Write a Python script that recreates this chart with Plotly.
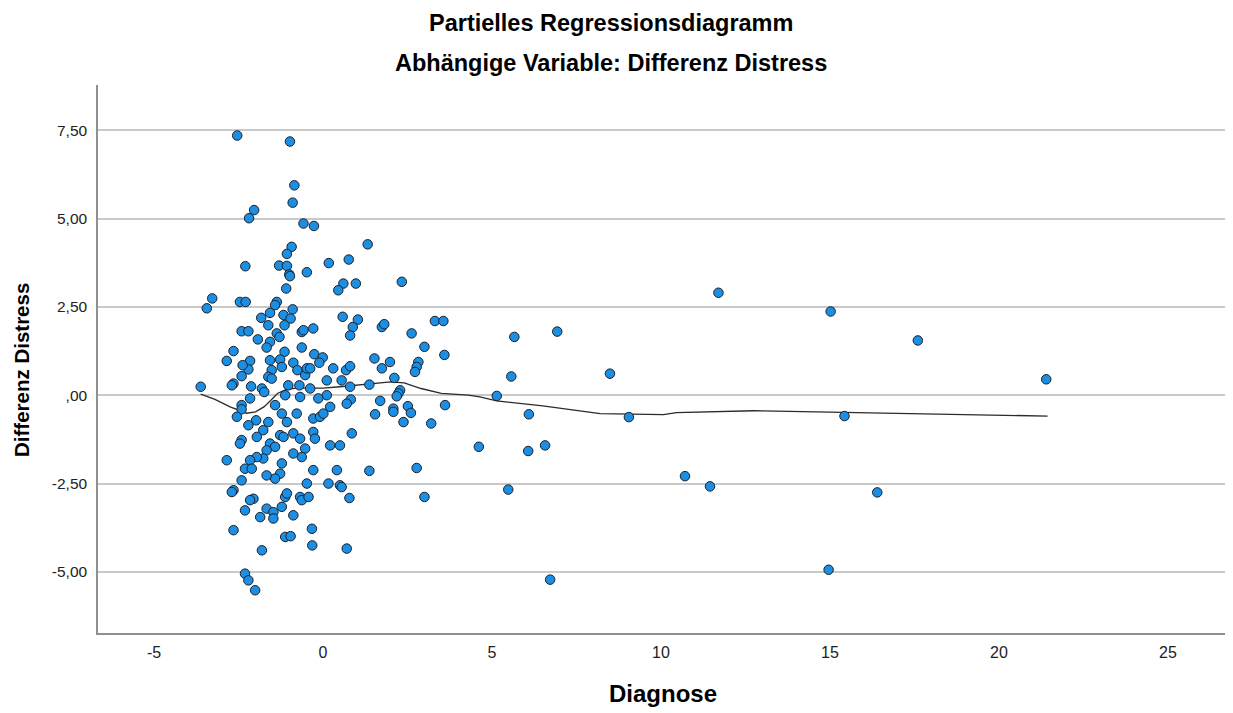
import plotly.graph_objects as go

# ---- data (Diagnose, Differenz Distress) ----
upper_points = [
    (-2.54, 7.35), (-0.98, 7.18), (-0.85, 5.94), (-0.90, 5.45), (-2.04, 5.24), (-2.19, 5.01),
    (-0.58, 4.86), (-0.27, 4.79), (1.32, 4.27), (-0.93, 4.20), (-1.07, 4.00), (-2.30, 3.65),
    (-1.30, 3.67), (-1.07, 3.66), (0.17, 3.74), (0.76, 3.84), (-1.00, 3.42), (-0.48, 3.48),
    (-0.98, 3.37), (0.60, 3.16), (0.45, 2.97), (0.97, 3.16), (-1.09, 3.02), (-3.28, 2.74),
    (-3.44, 2.46), (-2.46, 2.64), (-2.29, 2.64), (-1.37, 2.64), (-1.42, 2.55), (-0.90, 2.43),
    (-1.57, 2.33), (-1.83, 2.19), (-1.17, 2.27), (-0.96, 2.17), (0.58, 2.22), (1.03, 2.14),
    (0.88, 1.93), (0.80, 1.69), (-1.62, 1.98), (-1.14, 1.98), (-2.41, 1.81), (-2.21, 1.81),
    (-1.93, 1.58), (-1.37, 1.75), (-1.29, 1.65), (-1.57, 1.51), (-1.67, 1.35), (-0.63, 1.79),
    (-0.58, 1.84), (-0.29, 1.89), (-0.63, 1.35), (-1.14, 1.23), (-2.65, 1.25), (2.33, 3.21),
    (1.74, 1.93), (1.81, 2.01), (3.31, 2.10), (3.56, 2.10), (2.62, 1.75), (3.00, 1.37),
    (3.59, 1.14),
]

middle_points = [
    (-2.85, 0.97), (-2.16, 0.97), (-2.21, 0.73), (-2.38, 0.85), (-2.41, 0.54), (-2.65, 0.33),
    (-2.70, 0.28), (-1.57, 0.99), (-1.52, 0.71), (-1.62, 0.52), (-1.52, 0.47), (-1.27, 1.01),
    (-1.22, 0.80), (-0.88, 0.92), (-0.76, 0.71), (-0.53, 0.57), (-0.48, 0.76), (-0.38, 0.76),
    (-0.26, 1.16), (-0.01, 1.07), (-0.11, 0.92), (0.30, 0.76), (0.68, 0.71), (0.80, 0.82),
    (0.55, 0.42), (0.11, 0.42), (1.52, 1.04), (1.37, 0.30), (-3.62, 0.24), (-2.13, 0.25),
    (-1.81, 0.19), (-1.74, 0.09), (-1.03, 0.28), (-0.70, 0.28), (-0.38, 0.19), (0.80, 0.24),
    (0.82, -0.12), (0.70, -0.24), (0.11, 0.00), (-0.14, -0.09), (-0.68, -0.05), (-1.12, 0.00),
    (-1.42, -0.28), (-2.16, -0.09), (-2.41, -0.28), (-2.41, -0.40), (-2.55, -0.61),
    (1.98, 0.94), (2.82, 0.94), (2.77, 0.80), (2.72, 0.66), (1.74, 0.76), (2.11, 0.49),
    (2.28, 0.14), (2.23, 0.05), (1.69, -0.16), (2.08, -0.38), (2.08, -0.47), (2.18, -0.03),
    (2.51, -0.31), (2.60, -0.50), (2.38, -0.76), (3.20, -0.80), (3.61, -0.28), (1.54, -0.54),
]

lower_points = [
    (-1.22, -0.52), (-1.07, -0.76), (-1.62, -0.76), (-1.77, -0.99), (-1.98, -0.71), (-2.21, -0.85),
    (-2.41, -1.27), (-2.46, -1.37), (-1.96, -1.18), (-1.57, -1.37), (-1.27, -1.13), (-1.17, -1.18),
    (-0.88, -1.08), (-0.78, -0.52), (-0.68, -1.23), (-0.53, -1.51), (-0.63, -1.75), (-0.88, -1.65),
    (-1.42, -1.46), (-1.67, -1.56), (-1.77, -1.79), (-1.96, -1.75), (-2.16, -1.84), (-2.31, -2.08),
    (-2.11, -2.08), (-2.85, -1.84), (-1.22, -1.93), (-1.27, -2.22), (-1.42, -2.36), (-1.67, -2.27),
    (-2.41, -2.41), (-2.65, -2.69), (-2.70, -2.74), (-2.06, -2.93), (-2.16, -2.97), (-2.31, -3.26),
    (-1.86, -3.45), (-1.67, -3.21), (-1.47, -3.31), (-1.47, -3.49), (-1.22, -3.16), (-1.12, -2.88),
    (-1.07, -2.78), (-0.88, -3.40), (-0.68, -2.88), (-0.63, -2.97), (-0.43, -2.88), (-0.48, -2.50),
    (-0.29, -2.12), (-0.29, -1.04), (-0.24, -1.23), (-0.29, -0.66), (-0.09, -0.61), (0.01, -0.52),
    (0.21, -0.33), (0.21, -1.42), (0.50, -1.42), (0.85, -1.08), (0.41, -2.12), (0.16, -2.50),
    (0.50, -2.55), (0.55, -2.60), (0.78, -2.91), (1.37, -2.14), (-2.65, -3.82), (-1.81, -4.39),
    (-1.12, -4.01), (-0.96, -3.99), (-0.33, -3.78), (-0.32, -4.25), (0.70, -4.34), (-2.31, -5.05),
    (-2.21, -5.24), (-2.01, -5.52), (2.77, -2.06), (3.00, -2.88),
]

right_points = [
    (11.70, 2.90), (15.02, 2.37), (5.66, 1.65), (6.93, 1.80), (5.57, 0.53), (8.49, 0.61),
    (5.14, -0.02), (6.09, -0.54), (9.05, -0.62), (15.43, -0.59), (4.61, -1.46), (6.07, -1.58),
    (6.57, -1.42), (5.48, -2.67), (10.71, -2.29), (11.45, -2.58), (14.96, -4.94), (6.72, -5.22),
    (17.60, 1.55), (21.40, 0.45), (16.40, -2.75),
]

# Loess fit line
loess_x = [-3.62, -3.2, -2.75, -2.4, -2.26, -2.0, -1.75, -1.55, -1.35, -1.1, -0.8, -0.4, 0.0,
           0.5, 1.0, 1.4, 2.0, 2.4, 2.9, 3.5, 4.3, 4.64, 5.14, 6.5, 7.5, 8.2, 10.07, 10.46,
           12.73, 15.89, 21.44]
loess_y = [0.03, -0.12, -0.33, -0.47, -0.51, -0.47, -0.33, -0.15, 0.05, 0.16, 0.2, 0.2, 0.2,
           0.24, 0.29, 0.33, 0.38, 0.35, 0.19, 0.05, 0.0, -0.05, -0.16, -0.3, -0.42, -0.52,
           -0.55, -0.49, -0.44, -0.49, -0.59]

x_ticks = [-5, 0, 5, 10, 15, 20, 25]
x_tick_labels = ["-5", "0", "5", "10", "15", "20", "25"]
y_ticks = [-5, -2.5, 0, 2.5, 5, 7.5]
y_tick_labels = ["-5,00", "-2,50", ",00", "2,50", "5,00", "7,50"]

all_points = upper_points + middle_points + lower_points + right_points
px = [p[0] for p in all_points]
py = [p[1] for p in all_points]

FONT = "Liberation Sans, Arial, sans-serif"

fig = go.Figure()
fig.add_trace(go.Scatter(
    x=loess_x, y=loess_y, mode="lines",
    line=dict(color="#2b2b2b", width=1.3),
    hoverinfo="skip",
))
fig.add_trace(go.Scatter(
    x=px, y=py, mode="markers",
    marker=dict(size=9.5, color="#1c8fe3", line=dict(color="#1a1f2b", width=1)),
))

fig.update_layout(
    width=1225, height=705,
    margin=dict(l=90, r=8, t=77, b=80),
    plot_bgcolor="white", paper_bgcolor="white",
    showlegend=False,
    font=dict(family=FONT, color="#222222"),
    xaxis=dict(
        range=[-6.66, 26.69], tickvals=x_ticks, ticktext=x_tick_labels,
        showgrid=False, zeroline=False, showline=True, linecolor="#8f8f8f", linewidth=1.5,
        ticks="outside", ticklen=4, tickcolor="rgba(0,0,0,0)",
        tickfont=dict(size=16, color="#222222", family=FONT),
    ),
    yaxis=dict(
        range=[-6.73, 8.78], tickvals=y_ticks, ticktext=y_tick_labels,
        showgrid=True, gridcolor="#c9c9c9", gridwidth=1.5, zeroline=False,
        showline=True, linecolor="#8f8f8f", linewidth=1.5,
        ticks="outside", ticklen=6, tickcolor="rgba(0,0,0,0)",
        tickfont=dict(size=15.5, color="#222222", family=FONT),
    ),
    annotations=[
        dict(text="Partielles Regressionsdiagramm", xref="paper", yref="paper",
             x=0.4556, y=1.113, xanchor="center", yanchor="middle", showarrow=False,
             font=dict(size=23.5, color="#000000", family=FONT, weight="bold")),
        dict(text="Abhängige Variable: Differenz Distress", xref="paper", yref="paper",
             x=0.4556, y=1.0407, xanchor="center", yanchor="middle", showarrow=False,
             font=dict(size=23.5, color="#000000", family=FONT, weight="bold")),
        dict(text="Diagnose", xref="paper", yref="paper",
             x=0.501, y=-0.1095, xanchor="center", yanchor="middle", showarrow=False,
             font=dict(size=24, color="#000000", family=FONT, weight="bold")),
        dict(text="Differenz Distress", xref="paper", yref="paper", textangle=-90,
             x=-0.0674, y=0.48, xanchor="center", yanchor="middle", showarrow=False,
             font=dict(size=20.5, color="#000000", family=FONT, weight="bold")),
    ],
)

fig.write_html("out.html")
